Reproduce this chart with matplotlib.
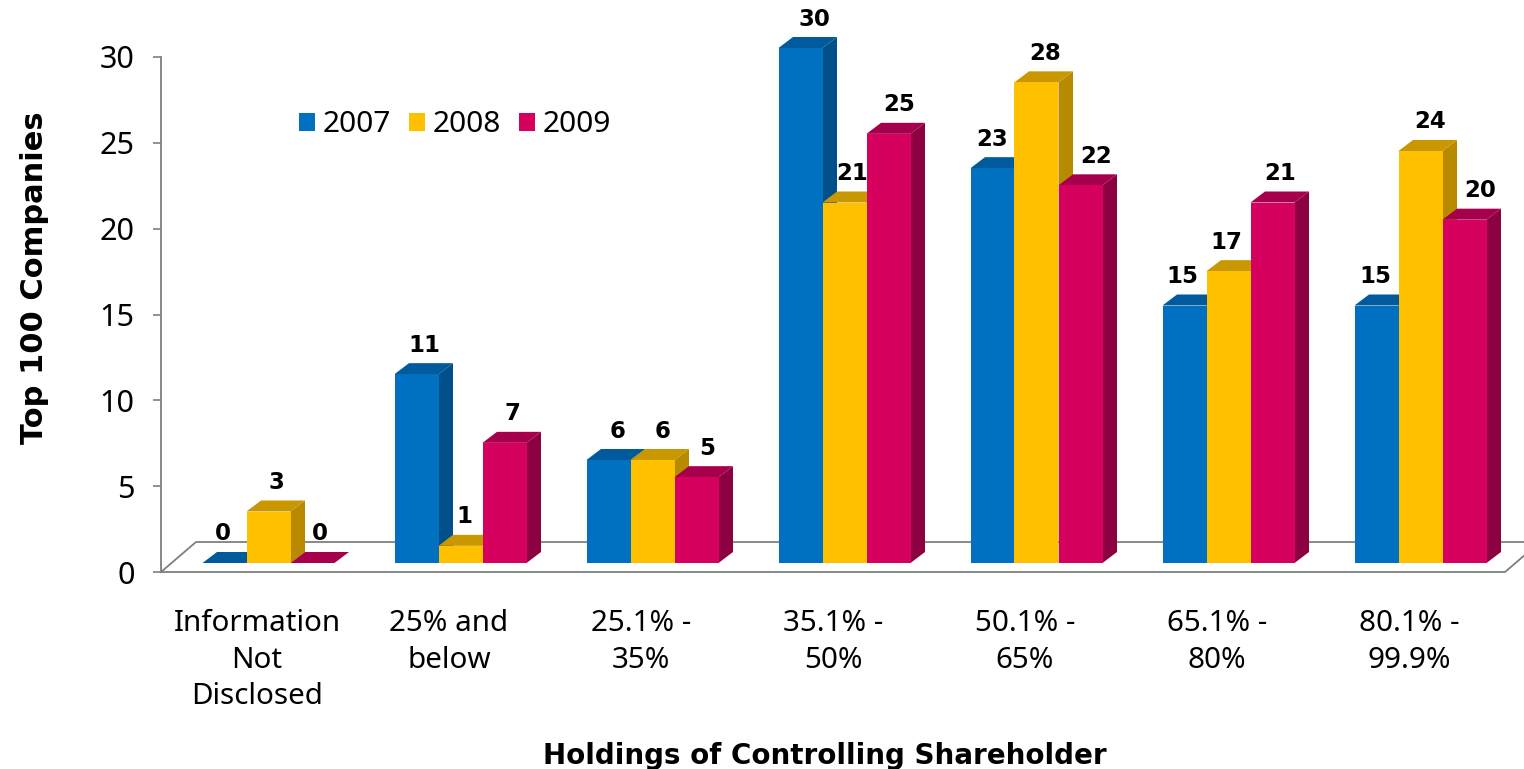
import matplotlib
matplotlib.use("Agg")
import matplotlib.pyplot as plt
from matplotlib.patches import Polygon, Patch

categories = ["Information\nNot\nDisclosed", "25% and\nbelow", "25.1% -\n35%", "35.1% -\n50%",
              "50.1% -\n65%", "65.1% -\n80%", "80.1% -\n99.9%"]
years = ["2007", "2008", "2009"]
v2007 = [0, 11, 6, 30, 23, 15, 15]
v2008 = [3, 1, 6, 21, 28, 17, 24]
v2009 = [0, 7, 5, 25, 22, 21, 20]

# label nudges in pixels, the labels do not sit the same way on every bar
nudge2007 = [-2, 8, 9, 14, 0, -2, -1]
nudge2008 = [8, 4, 10, 8, 9, -2, 10]
nudge2009 = [7, 8, 11, 11, 16, 8, 16]

front = ["#0070C0", "#FFC000", "#D6005F"]
side = ["#00508C", "#B88A00", "#8C0042"]
top = ["#005A9C", "#C99700", "#A6004C"]

W, H = 1524, 769
fig = plt.figure(figsize=(W / 100, H / 100), dpi=100)
ax = fig.add_axes([161 / W, 1 - 572 / H, 1344 / W, 515 / H])
ax.set_xlim(-0.5, 6.5)
ax.set_ylim(0, 30)

px_x = 7 / 1344
px_y = 30 / 515

bar_w = 44 * px_x
shift_x = 11.5 * px_x
shift_y = 9 * px_y
depth_x = 14.5 * px_x
depth_y = 11 * px_y

plt.rcParams["font.family"] = "Noto Sans"
font_reg = "Noto Sans"
font_bold = "DejaVu Sans"

# floor
floor_x = 35 * px_x
floor_y = 30 * px_y
line_c = "#7f7f7f"
ax.plot([-0.5, -0.5 + floor_x, 6.5 + floor_x], [0, floor_y, floor_y], color=line_c, lw=1.3, clip_on=False, zorder=1)
ax.plot([-0.5, 6.5, 6.5 + floor_x], [0, 0, floor_y], color=line_c, lw=1.3, clip_on=False, zorder=1)

series = [v2007, v2008, v2009]
nudges = [nudge2007, nudge2008, nudge2009]
for s, vals in enumerate(series):
    z = 3 + s * 2
    for i, v in enumerate(vals):
        x0 = i + shift_x + (s - 1.5) * bar_w
        x1 = x0 + bar_w
        base = shift_y
        ytop = base + v
        ax.add_patch(Polygon([(x1, base), (x1 + depth_x, base + depth_y), (x1 + depth_x, ytop + depth_y), (x1, ytop)],
                             closed=True, fc=side[s], ec="none", clip_on=False, zorder=z))
        ax.add_patch(Polygon([(x0, ytop), (x0 + depth_x, ytop + depth_y), (x1 + depth_x, ytop + depth_y), (x1, ytop)],
                             closed=True, fc=top[s], ec="none", clip_on=False, zorder=z))
        ax.bar(x0, v, width=bar_w, bottom=base, align="edge", color=front[s], clip_on=False, zorder=z)
        ax.annotate(str(v), (x0 + bar_w / 2, ytop), xytext=(nudges[s][i] * 0.72, 29 * 0.72),
                    textcoords="offset points", ha="center", va="center",
                    fontsize=16.5, fontweight="bold", family=font_bold, color="black",
                    annotation_clip=False, zorder=z + 1)

for sp in ["top", "right", "bottom"]:
    ax.spines[sp].set_visible(False)
ax.spines["left"].set_color(line_c)
ax.spines["left"].set_linewidth(1.3)

ax.set_yticks([0, 5, 10, 15, 20, 25, 30])
ax.set_xticks(range(7))
ax.set_xticklabels(categories, family=font_reg, fontsize=21.3, linespacing=1.35)
ax.tick_params(axis="x", length=0, pad=26.5)
ax.tick_params(axis="y", length=6, width=1.2, color=line_c, pad=13, labelsize=22)
for t in ax.get_yticklabels():
    t.set_family(font_reg)
ax.patch.set_alpha(0)

handles = [Patch(fc=front[k], ec="none") for k in range(3)]
ax.legend(handles, years, loc="center left", bbox_to_anchor=(299 / W, 1 - 125 / H), bbox_transform=fig.transFigure,
          ncol=3, frameon=False, borderpad=0, borderaxespad=0, handlelength=0.54, handleheight=0.54,
          handletextpad=0.25, columnspacing=0.6, prop={"family": font_reg, "size": 21.5})

fig.text(35 / W, 1 - 278 / H, "Top 100 Companies", rotation=90, ha="center", va="center",
         family=font_bold, fontweight="bold", fontsize=22)
fig.text(825 / W, 1 - 756 / H, "Holdings of Controlling Shareholder", ha="center", va="center",
         family=font_bold, fontweight="bold", fontsize=20)

fig.savefig("out.png", dpi=100)
